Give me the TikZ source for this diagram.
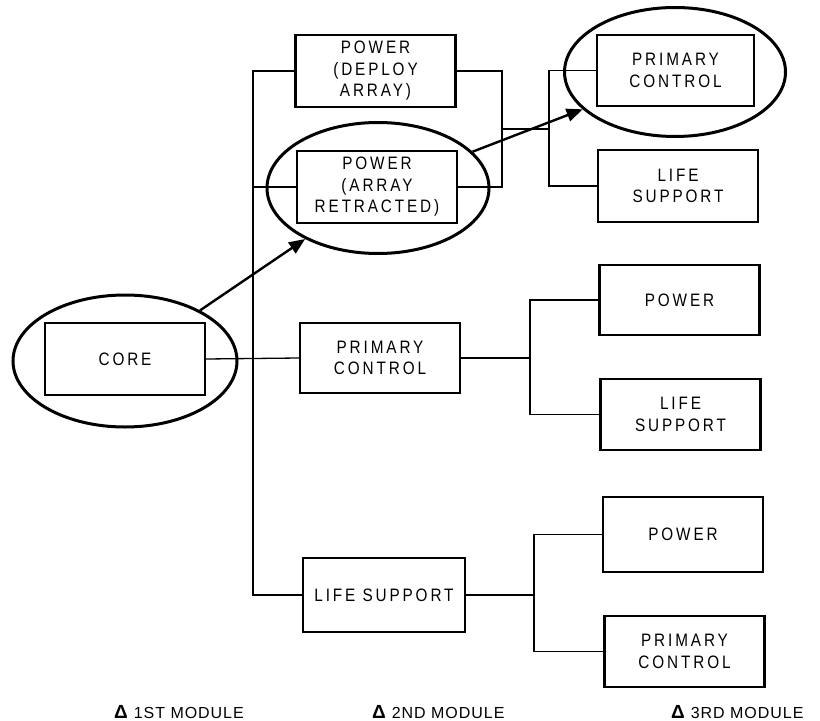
\documentclass[tikz,border=0pt]{standalone}
\usepackage{fontspec}
\setmainfont{Liberation Sans}
\newfontfamily\boxfont{Liberation Sans}[LetterSpace=16,FakeStretch=0.85]
\newfontfamily\labfont{Liberation Sans}[LetterSpace=6]
\usetikzlibrary{shapes.geometric,arrows.meta,calc}
\newcommand{\deltamark}{{\bfseries\fontsize{19bp}{20bp}\selectfont Δ}\hspace{6bp}}
\begin{document}
\begin{tikzpicture}[x=1bp,y=-1bp,
 blk/.style={draw,line width=2.3bp,minimum width=160bp,minimum height=72bp,inner sep=0pt,align=center,font=\boxfont\fontsize{18bp}{21.5bp}\selectfont},
 ring/.style={draw,ellipse,line width=3bp,inner sep=0pt},
 wire/.style={line width=1.3bp},
 arr/.style={line width=2.4bp,-{Triangle[length=16bp,width=13bp]}},
 lab/.style={anchor=west,inner sep=0pt,font=\labfont\fontsize{16bp}{18bp}\selectfont}]
\useasboundingbox (0,0) rectangle (820,721);

\node[blk] (pd) at (375.5,71) {POWER\\(DEPLOY\\ARRAY)};
\node[blk] (pr) at (377,187) {POWER\\(ARRAY\\RETRACTED)};
\node[blk] (core) at (125,359) {CORE};
\node[blk,minimum height=70bp] (pc2) at (380,358) {PRIMARY\\CONTROL};
\node[blk,minimum width=162bp,minimum height=74bp] (ls2) at (384,595) {LIFE SUPPORT};
\node[blk,minimum width=157bp,minimum height=71bp] (pc3a) at (675.5,70.5) {PRIMARY\\CONTROL};
\node[blk] (ls3a) at (678,186) {LIFE\\SUPPORT};
\node[blk,minimum height=70bp] (pw3b) at (679.5,300) {POWER};
\node[blk,minimum height=71bp] (ls3b) at (680.5,414.5) {LIFE\\SUPPORT};
\node[blk,minimum height=75bp] (pw3c) at (683,534.5) {POWER};
\node[blk,minimum height=71bp] (pc3c) at (684.5,651.5) {PRIMARY\\CONTROL};

\node[ring,minimum width=224bp,minimum height=132bp] (ecore) at (125,361) {};
\node[ring,minimum width=222bp,minimum height=131bp] (epr) at (378,188) {};
\node[ring,minimum width=221bp,minimum height=129bp] (epc) at (675,72) {};

\coordinate (tk) at (253,0);
\draw[wire] (pd.west) -- (pd.west -| tk) -- (ls2.west -| tk) -- (ls2.west);
\draw[wire] (pr.west) -- (pr.west -| tk);
\draw[wire] (core.east) -- (pc2.west);

\coordinate (bx) at (502,129);
\coordinate (by) at (549,129);
\draw[wire] (pd.east) -| (bx) |- (pr.east);
\draw[wire] (bx) -- (by);
\draw[wire] (pc3a.west) -| (by) |- (ls3a.west);

\coordinate (m1) at (530,358);
\draw[wire] (pc2.east) -- (m1);
\draw[wire] (pw3b.west) -| (m1) |- (ls3b.west);

\coordinate (m2) at (534,595);
\draw[wire] (ls2.east) -- (m2);
\draw[wire] (pw3c.west) -| (m2) |- (pc3c.west);

\draw[arr] (ecore.34) -- (epr.215);
\draw[arr] (epr.21) -- (epc.202);

\node[lab] (l1) at (114,712) {\deltamark 1ST MODULE};
\node[lab] (l2) at (372,712) {\deltamark 2ND MODULE};
\node[lab] (l3) at (671,712) {\deltamark 3RD MODULE};
\end{tikzpicture}
\end{document}
